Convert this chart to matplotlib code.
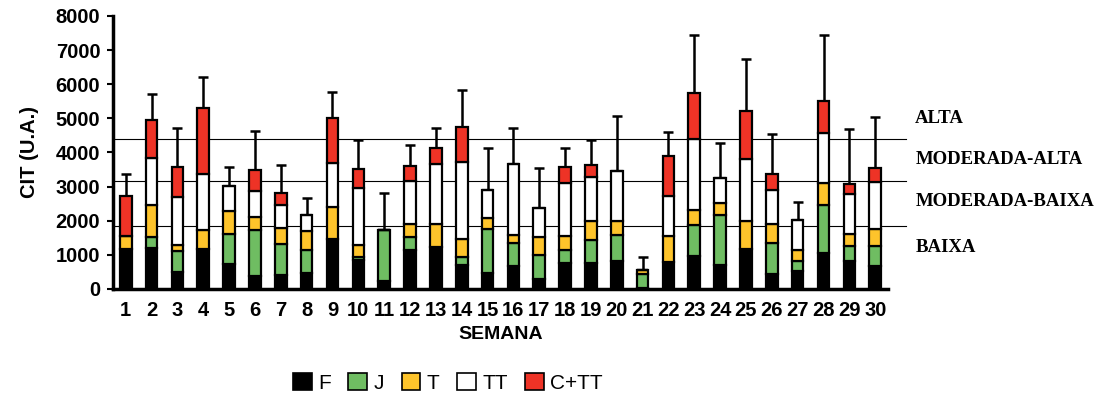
import matplotlib
matplotlib.use('Agg')
import matplotlib.pyplot as plt
import numpy as np
from matplotlib.patches import Patch

# Dados
semanas = list(range(1, 31))
F = [1180, 1200, 510, 1180, 730, 380, 410, 460, 1460, 840,
     220, 1130, 1240, 690, 460, 670, 280, 750, 750, 810,
     30, 780, 980, 690, 1180, 440, 520, 1050, 810, 670]
J = [0, 330, 590, 0, 870, 1360, 910, 690, 0, 90,
     1500, 390, 0, 250, 1300, 670, 720, 400, 670, 770,
     410, 0, 880, 1490, 0, 910, 310, 1400, 440, 590]
T = [360, 920, 200, 540, 670, 370, 480, 550, 940, 350,
     0, 370, 650, 520, 320, 250, 510, 390, 570, 420,
     120, 760, 440, 350, 810, 560, 310, 640, 360, 510]
TT = [0, 1390, 1400, 1650, 760, 750, 650, 480, 1300, 1680,
      0, 1280, 1760, 2260, 820, 2060, 860, 1560, 1290, 1470,
      0, 1170, 2090, 710, 1830, 1000, 880, 1490, 1180, 1370]
CTT = [1180, 1120, 860, 1930, 0, 630, 360, 0, 1310, 560,
       0, 430, 480, 1020, 0, 0, 0, 470, 360, 0,
       0, 1180, 1360, 0, 1390, 470, 0, 940, 290, 410]
erro = [650, 760, 1150, 900, 540, 1140, 820, 480, 760, 850,
        1100, 630, 580, 1080, 1230, 1080, 1180, 570, 730, 1600,
        390, 710, 1690, 1030, 1520, 1150, 540, 1920, 1600, 1500]

limites = [4400, 3170, 1840]
niveis = ['ALTA', 'MODERADA-ALTA', 'MODERADA-BAIXA', 'BAIXA']
niveis_y = [5000, 3780, 2550, 1200]

series = [F, J, T, TT, CTT]
nomes = ['F', 'J', 'T', 'TT', 'C+TT']
cores = ['#000000', '#6fbd62', '#fec42b', '#ffffff', '#ee3326']

plt.rcParams['font.family'] = ['Liberation Sans', 'DejaVu Sans']

fig = plt.figure(figsize=(11.06, 3.98), dpi=100)
ax = fig.add_axes([0.102, 0.274, 0.701, 0.686])

x = np.array(semanas)
base = np.zeros(len(x))
for vals, cor in zip(series, cores):
    ax.bar(x, vals, 0.45, bottom=base, color=cor, edgecolor='black', linewidth=1.6, zorder=3)
    base += np.array(vals)

# barras de erro (apenas para cima)
ax.errorbar(x, base, yerr=[np.zeros(len(x)), erro], fmt='none', ecolor='black',
            elinewidth=1.8, capsize=3.5, capthick=1.8, zorder=2)

# linhas de classificação
for lim in limites:
    ax.plot([0.5, 31.2], [lim, lim], color='black', linewidth=0.8, clip_on=False, zorder=1)
for txt, yv in zip(niveis, niveis_y):
    ax.text(31.55, yv, txt, fontsize=13.5, fontweight='bold', family='Liberation Serif',
            va='center', ha='left')

ax.set_xlim(0.5, 30.5)
ax.set_ylim(0, 8000)
ax.set_yticks(range(0, 8001, 1000))
ax.set_xticks(x)
ax.tick_params(axis='x', length=0, pad=9)
ax.tick_params(axis='y', length=4, width=1.5, direction='out', pad=5)
for lab in ax.get_xticklabels() + ax.get_yticklabels():
    lab.set_fontweight('bold')
    lab.set_fontsize(14.5)
ax.spines['top'].set_visible(False)
ax.spines['right'].set_visible(False)
ax.spines['left'].set_linewidth(2.5)
ax.spines['bottom'].set_linewidth(2.5)

ax.set_xlabel('SEMANA', fontsize=14, fontweight='bold', labelpad=4)
ax.set_ylabel('CIT (U.A.)', fontsize=14.5, fontweight='bold', labelpad=12)

handles = [Patch(facecolor=c, edgecolor='black', linewidth=1.2) for c in cores]
fig.legend(handles, nomes, loc='center', bbox_to_anchor=(0.405, 0.038), ncol=5,
           frameon=False, fontsize=15, handlelength=0.9, handleheight=0.9,
           handletextpad=0.3, columnspacing=0.85)

fig.savefig('out.png', dpi=100)
